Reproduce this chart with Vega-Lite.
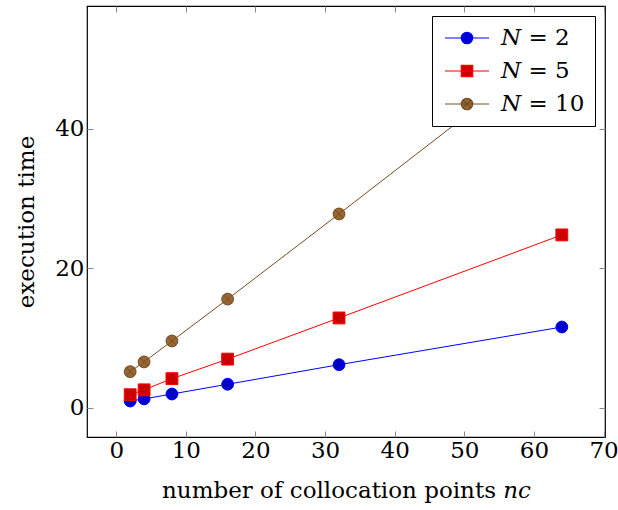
{
  "$schema": "https://vega.github.io/schema/vega-lite/v6.json",
  "width": 518,
  "height": 431,
  "autosize": {"type": "none"},
  "padding": {"left": 87, "top": 6, "right": 13, "bottom": 73},
  "background": "white",
  "config": {
    "view": {"stroke": "black", "strokeWidth": 1.2},
    "font": "DejaVu Serif",
    "axis": {
      "labelFont": "DejaVu Serif",
      "titleFont": "DejaVu Serif",
      "labelFontSize": 23,
      "titleFontSize": 23,
      "titleFontWeight": "normal",
      "labelColor": "black",
      "titleColor": "black",
      "domain": false,
      "grid": false,
      "tickColor": "#888888",
      "tickWidth": 1,
      "tickSize": -6
    }
  },
  "data": {
    "values": [
      {"n": 2, "t": 1.0, "series": "N = 2"},
      {"n": 4, "t": 1.3, "series": "N = 2"},
      {"n": 8, "t": 2.0, "series": "N = 2"},
      {"n": 16, "t": 3.4, "series": "N = 2"},
      {"n": 32, "t": 6.2, "series": "N = 2"},
      {"n": 64, "t": 11.6, "series": "N = 2"},
      {"n": 2, "t": 1.9, "series": "N = 5"},
      {"n": 4, "t": 2.6, "series": "N = 5"},
      {"n": 8, "t": 4.2, "series": "N = 5"},
      {"n": 16, "t": 7.0, "series": "N = 5"},
      {"n": 32, "t": 12.9, "series": "N = 5"},
      {"n": 64, "t": 24.8, "series": "N = 5"},
      {"n": 2, "t": 5.2, "series": "N = 10"},
      {"n": 4, "t": 6.6, "series": "N = 10"},
      {"n": 8, "t": 9.6, "series": "N = 10"},
      {"n": 16, "t": 15.6, "series": "N = 10"},
      {"n": 32, "t": 27.8, "series": "N = 10"},
      {"n": 64, "t": 52.5, "series": "N = 10"}
    ]
  },
  "resolve": {"axis": {"x": "independent", "y": "independent"}},
  "layer": [
    {
      "mark": {"type": "line", "strokeWidth": 1, "clip": true},
      "encoding": {
        "x": {"field": "n", "type": "quantitative",
              "scale": {"domain": [-4.2, 70.2], "nice": false, "zero": false},
              "axis": {"orient": "bottom", "values": [0, 10, 20, 30, 40, 50, 60, 70], "title": "number of collocation points 𝑛𝑐", "labelPadding": 8, "titlePadding": 17}},
        "y": {"field": "t", "type": "quantitative",
              "scale": {"domain": [-4.16, 57.6], "nice": false, "zero": false},
              "axis": {"orient": "left", "values": [0, 20, 40], "title": "execution time", "labelPadding": 9, "titlePadding": 16}},
        "detail": {"field": "series"},
        "stroke": {
          "condition": [
            {"test": "datum.series === 'N = 2'", "value": "#0000ff"},
            {"test": "datum.series === 'N = 5'", "value": "#ff0000"}
          ],
          "value": "#734d26"
        }
      }
    },
    {
      "mark": {"type": "point", "filled": true, "strokeWidth": 1, "opacity": 1, "size": 140, "clip": true},
      "encoding": {
        "x": {"field": "n", "type": "quantitative",
              "axis": {"orient": "top", "values": [0, 10, 20, 30, 40, 50, 60, 70], "labels": false, "title": null}},
        "y": {"field": "t", "type": "quantitative",
              "axis": {"orient": "right", "values": [0, 20, 40], "labels": false, "title": null}},
        "shape": {
          "condition": [
            {"test": "datum.series === 'N = 2'", "value": "circle"},
            {"test": "datum.series === 'N = 5'", "value": "square"}
          ],
          "value": "M-1,0A1,1 0 1,0 1,0A1,1 0 1,0 -1,0ZM-0.707,-0.707L0.707,0.707M-0.707,0.707L0.707,-0.707"
        },
        "fill": {
          "condition": [
            {"test": "datum.series === 'N = 2'", "value": "#0000cc"},
            {"test": "datum.series === 'N = 5'", "value": "#cc0000"}
          ],
          "value": "#996633"
        },
        "stroke": {
          "condition": [
            {"test": "datum.series === 'N = 2'", "value": "#0000ff"},
            {"test": "datum.series === 'N = 5'", "value": "#ff0000"}
          ],
          "value": "#734d26"
        }
      }
    },
    {
      "mark": {"type": "point", "filled": true, "opacity": 0, "strokeWidth": 1.2},
      "encoding": {
        "x": {"field": "n", "type": "quantitative", "axis": null},
        "y": {"field": "t", "type": "quantitative", "axis": null},
        "shape": {"field": "series", "type": "nominal",
          "scale": {"domain": ["N = 2", "N = 5", "N = 10"],
            "range": [
              "M-2,0L2,0M-0.52,0A0.52,0.52 0 1,0 0.52,0A0.52,0.52 0 1,0 -0.52,0Z",
              "M-2,0L2,0M-0.52,-0.52H0.52V0.52H-0.52Z",
              "M-2,0L2,0M-0.52,0A0.52,0.52 0 1,0 0.52,0A0.52,0.52 0 1,0 -0.52,0ZM-0.37,-0.37L0.37,0.37M-0.37,0.37L0.37,-0.37"
            ]},
          "legend": {
            "title": null,
            "orient": "top-right",
            "offset": 10,
            "padding": 10,
            "strokeColor": "black",
            "fillColor": "white",
            "symbolSize": 484,
            "symbolOpacity": 1,
            "symbolStrokeWidth": 1.2,
            "symbolOffset": 13,
            "labelOffset": 22,
            "rowPadding": 9,
            "labelFont": "DejaVu Serif",
            "labelFontSize": 23,
            "labelColor": "black",
            "labelLimit": 200,
            "labelExpr": "'𝑁' + slice(datum.label, 1)"
          }
        },
        "fill": {"field": "series", "type": "nominal",
          "scale": {"domain": ["N = 2", "N = 5", "N = 10"], "range": ["#0000cc", "#cc0000", "#996633"]}},
        "stroke": {"field": "series", "type": "nominal",
          "scale": {"domain": ["N = 2", "N = 5", "N = 10"], "range": ["#0000ff", "#ff0000", "#734d26"]}}
      }
    }
  ]
}
